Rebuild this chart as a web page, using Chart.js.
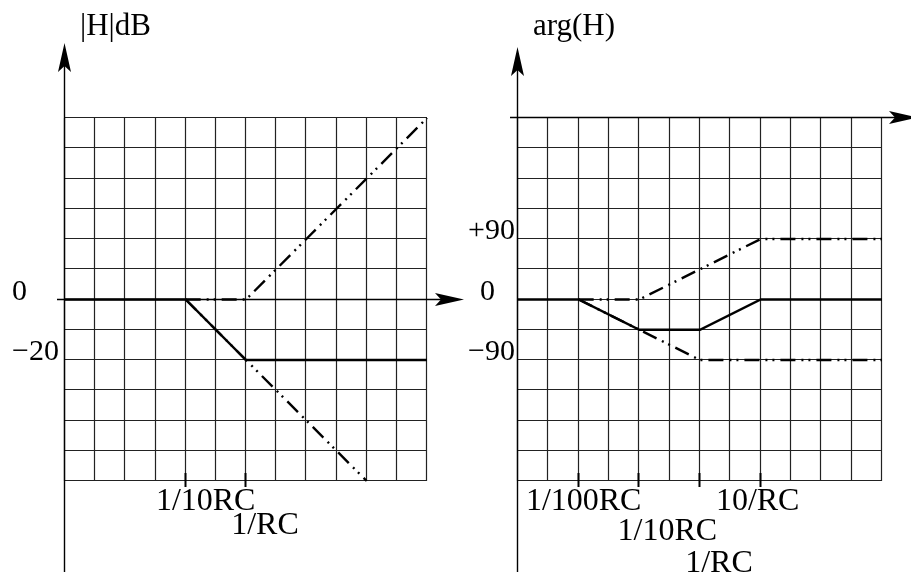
<!DOCTYPE html>
<html><head><meta charset="utf-8">
<script src="https://cdn.jsdelivr.net/npm/chart.js@4.4.1/dist/chart.umd.min.js"></script>
<style>
html,body{margin:0;padding:0;background:#fff;}
#wrap{position:relative;width:911px;height:574px;overflow:hidden;background:#fff;}
canvas{position:absolute;left:0;top:0;}
</style></head><body>
<div id="wrap"><canvas id="mag" width="911" height="574"></canvas><canvas id="phase" width="911" height="574"></canvas></div>
<script>
// ---------- data ----------
const magTitle = '|H|dB';
const phaseTitle = 'arg(H)';

const magTickValues = [0.1, 1];
const magTickLabels = ['1/10RC', '1/RC'];
const phaseTickValues = [0.01, 0.1, 1, 10];
const phaseTickLabels = ['1/100RC', '1/10RC', '1/RC', '10/RC'];

const magYLabelValues = [0, -20];
const magYLabels = ['0', '\u221220'];
const phaseYLabelValues = [90, 0, -90];
const phaseYLabels = ['+90', '0', '\u221290'];

// magnitude (omega*RC vs dB)
const magTotalW  = [0.001, 0.1, 1, 1000];
const magTotalDb = [0, 0, -20, -20];
const magZeroW   = [0.1, 1, 1000];
const magZeroDb  = [0, 0, 60];
const magPoleW   = [0.1, 100];
const magPoleDb  = [0, -60];

// phase (omega*RC vs degrees)
const phaseTotalW   = [0.001, 0.01, 0.1, 1, 10, 1000];
const phaseTotalDeg = [0, 0, -45, -45, 0, 0];
const phaseZeroW    = [0.01, 0.1, 10, 1000];
const phaseZeroDeg  = [0, 0, 90, 90];
const phasePoleW    = [0.01, 1, 1000];
const phasePoleDeg  = [0, -90, -90];

// ---------- styles ----------
const FONT = '"Liberation Serif", "Times New Roman", serif';
const DASH = [15, 6, 2, 5, 2, 6];
const pts = (xs, ys) => xs.map((x, i) => ({x, y: ys[i]}));

function arrowHead(ctx, tx, ty, dir, len, half, notch) {
  ctx.beginPath();
  if (dir === 'up') {
    ctx.moveTo(tx, ty);
    ctx.lineTo(tx + half, ty + len);
    ctx.lineTo(tx, ty + len - notch);
    ctx.lineTo(tx - half, ty + len);
  } else {
    ctx.moveTo(tx, ty);
    ctx.lineTo(tx - len, ty - half);
    ctx.lineTo(tx - len + notch, ty);
    ctx.lineTo(tx - len, ty + half);
  }
  ctx.closePath();
  ctx.fill();
}

const bodePlugin = {
  id: 'bode',
  beforeDatasetsDraw(chart) {
    const d = chart.options.plugins.bode;
    const {ctx, chartArea: a} = chart;
    const xs = chart.scales.x, ys = chart.scales.y;
    ctx.save();
    ctx.strokeStyle = '#222';
    ctx.lineWidth = 1.2;
    ctx.beginPath();
    for (let k = 0; k <= d.xCells; k++) {
      const v = Math.pow(10, Math.log10(xs.min) + k * (Math.log10(xs.max) - Math.log10(xs.min)) / d.xCells);
      const px = Math.round(xs.getPixelForValue(v)) - 0.5;
      ctx.moveTo(px, a.top); ctx.lineTo(px, a.bottom);
    }
    for (let v = ys.min; v <= ys.max + 1e-9; v += d.yStep) {
      const py = Math.round(ys.getPixelForValue(v)) - 0.5;
      ctx.moveTo(a.left, py); ctx.lineTo(a.right, py);
    }
    ctx.stroke();
    ctx.restore();
  },
  afterDraw(chart) {
    const d = chart.options.plugins.bode;
    const {ctx, chartArea: a} = chart;
    const xs = chart.scales.x, ys = chart.scales.y;
    ctx.save();
    ctx.strokeStyle = '#000';
    ctx.fillStyle = '#000';
    // y axis
    const ax = Math.round(a.left) - 0.5;
    ctx.lineWidth = 1.4;
    ctx.beginPath();
    ctx.moveTo(ax, d.yAxisBottom); ctx.lineTo(ax, d.yAxisTip + 10);
    ctx.stroke();
    arrowHead(ctx, ax, d.yAxisTip, 'up', d.arrowLen, d.arrowHalf, 6);
    // x axis
    const ay = Math.round(ys.getPixelForValue(d.xAxisAt)) - 0.5;
    ctx.beginPath();
    ctx.moveTo(d.xAxisFrom, ay); ctx.lineTo(d.xAxisTip - 10, ay);
    ctx.stroke();
    arrowHead(ctx, d.xAxisTip, ay, 'right', d.arrowLen, d.arrowHalf, 6);
    // tick marks
    ctx.lineWidth = 2;
    ctx.beginPath();
    d.tickValues.forEach(v => {
      const px = Math.round(xs.getPixelForValue(v)) - 0.5;
      ctx.moveTo(px, a.bottom - 8); ctx.lineTo(px, a.bottom + 6);
    });
    ctx.stroke();
    // tick labels
    ctx.font = d.tickFont + 'px ' + FONT;
    ctx.textAlign = 'center';
    ctx.textBaseline = 'alphabetic';
    d.tickLabels.forEach((t, i) => {
      const px = xs.getPixelForValue(d.tickValues[i]) + d.tickDx[i];
      ctx.fillText(t, px, d.tickBaseline[i]);
    });
    // y labels
    ctx.font = d.yFont + 'px ' + FONT;
    d.yLabels.forEach((t, i) => {
      const py = ys.getPixelForValue(d.yLabelValues[i]);
      ctx.textAlign = d.yAlign[i];
      ctx.fillText(t, d.yLabelX[i], py);
    });
    // title
    ctx.font = d.titleFont + 'px ' + FONT;
    ctx.textAlign = 'left';
    ctx.fillText(d.title, d.titleX, d.titleBaseline);
    ctx.restore();
  }
};

function lineDs(data, dashed, w) {
  return {
    data, borderColor: '#000', borderWidth: w, borderDash: dashed ? DASH : [],
    pointRadius: 0, fill: false, tension: 0, borderCapStyle: 'butt'
  };
}

function makeChart(id, padding, yMin, yMax, datasets, deco) {
  return new Chart(document.getElementById(id), {
    type: 'line',
    data: {datasets},
    options: {
      responsive: false, animation: false, devicePixelRatio: 1,
      layout: {padding},
      scales: {
        x: {type: 'logarithmic', min: 0.001, max: 1000, display: false},
        y: {type: 'linear', min: yMin, max: yMax, display: false}
      },
      plugins: {legend: {display: false}, tooltip: {enabled: false}, bode: deco},
      clip: false
    },
    plugins: [bodePlugin]
  });
}

makeChart('mag', {left: 65, right: 484, top: 118, bottom: 93}, -60, 60, [
  lineDs(pts(magZeroW, magZeroDb), true, 2.4),
  lineDs(pts(magPoleW, magPoleDb), true, 2.4),
  lineDs(pts(magTotalW, magTotalDb), false, 2.4)
], {
  xCells: 12, yStep: 10,
  yAxisBottom: 572, yAxisTip: 43, xAxisAt: 0, xAxisFrom: 57, xAxisTip: 464,
  arrowLen: 29, arrowHalf: 6.5,
  tickValues: magTickValues, tickLabels: magTickLabels,
  tickDx: [20, 19], tickBaseline: [510, 534], tickFont: 32,
  yLabelValues: magYLabelValues, yLabels: magYLabels,
  yAlign: ['left', 'left'], yLabelX: [12, 12], yFont: 30,
  title: magTitle, titleX: 80, titleBaseline: 35, titleFont: 31
});

makeChart('phase', {left: 518, right: 29, top: 118, bottom: 93}, -270, 270, [
  lineDs(pts(phaseZeroW, phaseZeroDeg), true, 2.4),
  lineDs(pts(phasePoleW, phasePoleDeg), true, 2.4),
  lineDs(pts(phaseTotalW, phaseTotalDeg), false, 2.4)
], {
  xCells: 12, yStep: 45,
  yAxisBottom: 572, yAxisTip: 47, xAxisAt: 270, xAxisFrom: 510, xAxisTip: 918,
  arrowLen: 29, arrowHalf: 6.5,
  tickValues: phaseTickValues, tickLabels: phaseTickLabels,
  tickDx: [5, 28, 19, -3], tickBaseline: [510, 540, 572, 510], tickFont: 32,
  yLabelValues: phaseYLabelValues, yLabels: phaseYLabels,
  yAlign: ['right', 'left', 'right'], yLabelX: [515, 480, 515], yFont: 30,
  title: phaseTitle, titleX: 533, titleBaseline: 35, titleFont: 31
});
</script>
</body></html>
